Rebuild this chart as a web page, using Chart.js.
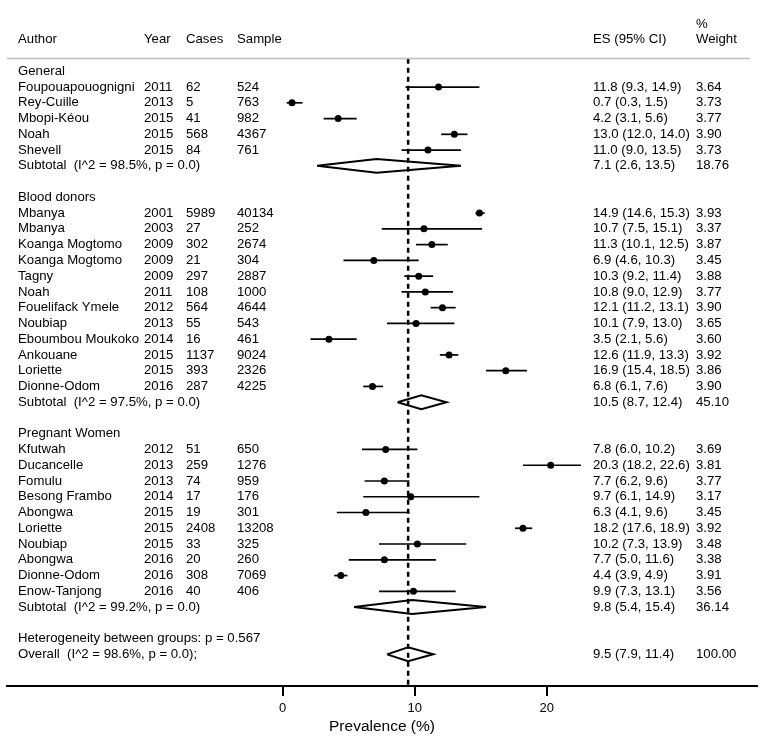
<!DOCTYPE html>
<html>
<head>
<meta charset="utf-8">
<script src="https://cdn.jsdelivr.net/npm/chart.js@4/dist/chart.umd.min.js"></script>
<style>
  html, body { margin: 0; padding: 0; background: #fff; }
  #wrap { position: relative; width: 764px; height: 745px; }
</style>
</head>
<body>
<div id="wrap"><canvas id="forest"></canvas></div>
<script>
// ---- data ----
var groupNames = ['General', 'Blood donors', 'Pregnant Women'];
var studyGroup = [0, 0, 0, 0, 0,
    1, 1, 1, 1, 1, 1, 1, 1, 1, 1, 1, 1,
    2, 2, 2, 2, 2, 2, 2, 2, 2, 2];
var studyAuthor = ['Foupouapouognigni', 'Rey-Cuille', 'Mbopi-Kéou', 'Noah', 'Shevell',
    'Mbanya', 'Mbanya', 'Koanga Mogtomo', 'Koanga Mogtomo', 'Tagny', 'Noah', 'Fouelifack Ymele',
    'Noubiap', 'Eboumbou Moukoko', 'Ankouane', 'Loriette', 'Dionne-Odom',
    'Kfutwah', 'Ducancelle', 'Fomulu', 'Besong Frambo', 'Abongwa', 'Loriette', 'Noubiap',
    'Abongwa', 'Dionne-Odom', 'Enow-Tanjong'];
var studyYear = [2011, 2013, 2015, 2015, 2015,
    2001, 2003, 2009, 2009, 2009, 2011, 2012, 2013, 2014, 2015, 2015, 2016,
    2012, 2013, 2013, 2014, 2015, 2015, 2015, 2016, 2016, 2016];
var studyCases = [62, 5, 41, 568, 84,
    5989, 27, 302, 21, 297, 108, 564, 55, 16, 1137, 393, 287,
    51, 259, 74, 17, 19, 2408, 33, 20, 308, 40];
var studySample = [524, 763, 982, 4367, 761,
    40134, 252, 2674, 304, 2887, 1000, 4644, 543, 461, 9024, 2326, 4225,
    650, 1276, 959, 176, 301, 13208, 325, 260, 7069, 406];
var studyES = [11.8, 0.7, 4.2, 13.0, 11.0,
    14.9, 10.7, 11.3, 6.9, 10.3, 10.8, 12.1, 10.1, 3.5, 12.6, 16.9, 6.8,
    7.8, 20.3, 7.7, 9.7, 6.3, 18.2, 10.2, 7.7, 4.4, 9.9];
var studyLow = [9.3, 0.3, 3.1, 12.0, 9.0,
    14.6, 7.5, 10.1, 4.6, 9.2, 9.0, 11.2, 7.9, 2.1, 11.9, 15.4, 6.1,
    6.0, 18.2, 6.2, 6.1, 4.1, 17.6, 7.3, 5.0, 3.9, 7.3];
var studyHigh = [14.9, 1.5, 5.6, 14.0, 13.5,
    15.3, 15.1, 12.5, 10.3, 11.4, 12.9, 13.1, 13.0, 5.6, 13.3, 18.5, 7.6,
    10.2, 22.6, 9.6, 14.9, 9.6, 18.9, 13.9, 11.6, 4.9, 13.1];
var studyWeight = [3.64, 3.73, 3.77, 3.90, 3.73,
    3.93, 3.37, 3.87, 3.45, 3.88, 3.77, 3.90, 3.65, 3.60, 3.92, 3.86, 3.90,
    3.69, 3.81, 3.77, 3.17, 3.45, 3.92, 3.48, 3.38, 3.91, 3.56];

var subtotalLabel = ['Subtotal  (I^2 = 98.5%, p = 0.0)', 'Subtotal  (I^2 = 97.5%, p = 0.0)',
    'Subtotal  (I^2 = 99.2%, p = 0.0)'];
var subtotalES = [7.1, 10.5, 9.8];
var subtotalLow = [2.6, 8.7, 5.4];
var subtotalHigh = [13.5, 12.4, 15.4];
var subtotalWeight = [18.76, 45.10, 36.14];

var heterogeneityLabel = 'Heterogeneity between groups: p = 0.567';
var overallLabel = 'Overall  (I^2 = 98.6%, p = 0.0);';
var overallES = 9.5, overallLow = 7.9, overallHigh = 11.4, overallWeight = 100.00;

var xTicks = [0, 10, 20];
var xTitle = 'Prevalence (%)';

// ---- layout rows (one y unit per table line) ----
var rows = [];
var r = 0;
groupNames.forEach(function (name, g) {
    rows.push({ kind: 'group', y: r++, label: name });
    studyAuthor.forEach(function (a, i) {
        if (studyGroup[i] !== g) return;
        rows.push({ kind: 'study', y: r++, i: i });
    });
    rows.push({ kind: 'subtotal', y: r++, g: g });
    r++;
});
var hetRow = r++;
var overallRow = r++;

function ci(es, lo, hi) {
    return es.toFixed(1) + ' (' + lo.toFixed(1) + ', ' + hi.toFixed(1) + ')';
}
function diamond(es, lo, hi, y) {
    var h = 0.44;
    return [{ x: lo, y: y }, { x: es, y: y - h }, { x: hi, y: y }, { x: es, y: y + h }, { x: lo, y: y }];
}

// ---- datasets ----
var datasets = [];
datasets.push({
    label: 'null', showLine: true, pointRadius: 0, borderColor: '#000', borderWidth: 2.5,
    borderDash: [5, 4], data: [{ x: overallES, y: -0.8 }, { x: overallES, y: 39.1 }]
});
var pts = [];
rows.forEach(function (row) {
    if (row.kind === 'study') {
        var i = row.i;
        datasets.push({
            showLine: true, pointRadius: 0, borderColor: '#000', borderWidth: 1.7,
            data: [{ x: studyLow[i], y: row.y }, { x: studyHigh[i], y: row.y }]
        });
        pts.push({ x: studyES[i], y: row.y });
    } else if (row.kind === 'subtotal') {
        var g = row.g;
        datasets.push({
            showLine: true, pointRadius: 0, borderColor: '#000', borderWidth: 2, fill: false,
            data: diamond(subtotalES[g], subtotalLow[g], subtotalHigh[g], row.y)
        });
    }
});
datasets.push({
    showLine: true, pointRadius: 0, borderColor: '#000', borderWidth: 2, fill: false,
    data: diamond(overallES, overallLow, overallHigh, overallRow)
});
datasets.push({
    pointRadius: 3.5, pointBackgroundColor: '#000', pointBorderWidth: 0, data: pts
});

// ---- table text drawn next to the plot ----
var FONT = '13.2px "Liberation Sans", Arial, sans-serif';
var COL = { author: 18, year: 144, cases: 186, sample: 237, es: 593, weight: 696 };

var tablePlugin = {
    id: 'forestTable',
    afterDraw: function (chart) {
        var ctx = chart.ctx;
        var ys = chart.scales.y;
        ctx.save();
        ctx.fillStyle = '#000';
        ctx.font = FONT;
        ctx.textBaseline = 'middle';
        ctx.textAlign = 'left';
        function put(t, x, y) { ctx.fillText(String(t), x, ys.getPixelForValue(y)); }

        put('Author', COL.author, -2);
        put('Year', COL.year, -2);
        put('Cases', COL.cases, -2);
        put('Sample', COL.sample, -2);
        put('ES (95% CI)', COL.es, -2);
        put('%', COL.weight, -3);
        put('Weight', COL.weight, -2);

        // grey rule under the header
        var yl = Math.round(ys.getPixelForValue(-0.87)) + 0.5;
        ctx.strokeStyle = '#bdbdbd';
        ctx.lineWidth = 1.5;
        ctx.beginPath();
        ctx.moveTo(7, yl);
        ctx.lineTo(750, yl);
        ctx.stroke();

        rows.forEach(function (row) {
            if (row.kind === 'group') {
                put(row.label, COL.author, row.y);
            } else if (row.kind === 'study') {
                var i = row.i;
                put(studyAuthor[i], COL.author, row.y);
                put(studyYear[i], COL.year, row.y);
                put(studyCases[i], COL.cases, row.y);
                put(studySample[i], COL.sample, row.y);
                put(ci(studyES[i], studyLow[i], studyHigh[i]), COL.es, row.y);
                put(studyWeight[i].toFixed(2), COL.weight, row.y);
            } else {
                var g = row.g;
                put(subtotalLabel[g], COL.author, row.y);
                put(ci(subtotalES[g], subtotalLow[g], subtotalHigh[g]), COL.es, row.y);
                put(subtotalWeight[g].toFixed(2), COL.weight, row.y);
            }
        });
        put(heterogeneityLabel, COL.author, hetRow);
        put(overallLabel, COL.author, overallRow);
        put(ci(overallES, overallLow, overallHigh), COL.es, overallRow);
        put(overallWeight.toFixed(2), COL.weight, overallRow);
        ctx.restore();
    }
};

new Chart(document.getElementById('forest'), {
    type: 'scatter',
    data: { datasets: datasets },
    options: {
        responsive: true,
        maintainAspectRatio: false,
        animation: false,
        layout: { padding: { left: 7, right: 7, top: 0, bottom: 0 } },
        plugins: { legend: { display: false }, tooltip: { enabled: false } },
        scales: {
            x: {
                type: 'linear', position: 'bottom', min: -20.89, max: 35.93,
                afterBuildTicks: function (s) { s.ticks = xTicks.map(function (v) { return { value: v }; }); },
                afterFit: function (s) { s.height = 59; },
                grid: { drawOnChartArea: false, drawTicks: true, tickLength: 10, color: '#000', lineWidth: 2 },
                border: { display: true, color: '#000', width: 2 },
                ticks: { color: '#000', padding: 5, font: { family: '"Liberation Sans", Arial, sans-serif', size: 13 } },
                title: {
                    display: true, text: xTitle, color: '#000',
                    font: { family: '"Liberation Sans", Arial, sans-serif', size: 15.5 },
                    padding: { top: 0, bottom: 9 }
                }
            },
            y: { type: 'linear', display: false, reverse: true, min: -4.27, max: 39.01 }
        }
    },
    plugins: [tablePlugin]
});
</script>
</body>
</html>
